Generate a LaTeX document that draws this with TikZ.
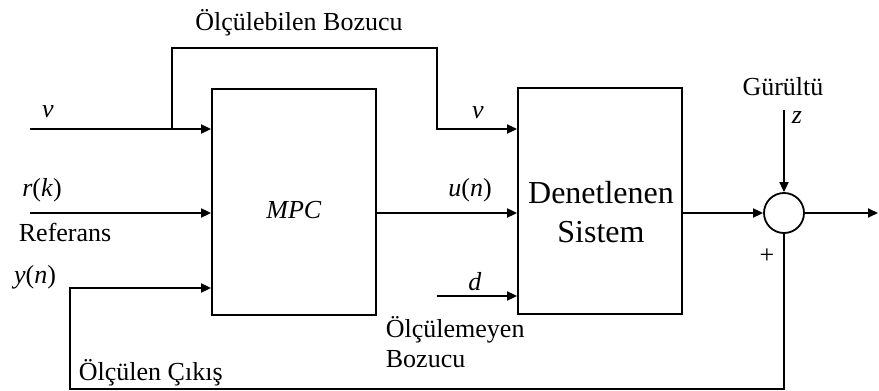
\documentclass[tikz,border=0pt]{standalone}
\usepackage{fontspec}
\setmainfont{Liberation Serif}
\usetikzlibrary{arrows.meta}

\begin{document}
\begin{tikzpicture}[x=0.5pt,y=-0.5pt,line width=0.9pt,
    blok/.style={draw,minimum width=82pt,minimum height=113pt},
    toplam/.style={draw,circle,minimum size=20pt,inner sep=0pt},
    ok/.style={-{Triangle[length=5pt,width=4.5pt]}},
    yazi/.style={font=\fontsize{13}{15}\selectfont,inner sep=0pt}]
    \useasboundingbox (0,0) rectangle (879,391);
    % bloklar
    \node[blok] (mpc) at (294,202) {};
    \node[yazi] (mpcad) at (294,210) {\textit{MPC}};
    \node[blok] (sis) at (600,201) {};
    \node[yazi,font=\fontsize{16}{19.5}\selectfont,align=center] (sisad) at (601,212) {Denetlenen\\Sistem};
    \node[toplam] (top) at (784,213) {};
    % serbest uclar
    \coordinate (vin) at (30,129);
    \coordinate (rin) at (30,213);
    \coordinate (vb) at (172,129);
    \coordinate (din) at (437,296);
    \coordinate (zin) at (784,110);
    \coordinate (cik) at (878,213);
    \coordinate (ykose) at (70,389);
    % baglantilar
    \draw[ok] (vin) -- (vin -| mpc.west);
    \draw[ok] (rin) -- (rin -| mpc.west);
    \draw[ok] (vb) -- (172,48) -- (437,48) -- (437,129) -- (vb -| sis.west);
    \draw[ok] (mpc.east |- rin) -- (sis.west |- rin);
    \draw[ok] (din) -- (din -| sis.west);
    \draw[ok] (sis.east |- top) -- (top.west);
    \draw[ok] (zin) -- (top.north);
    \draw[ok] (top.east) -- (cik);
    \draw[ok] (top.south) -- (top.south |- ykose) -- (ykose) -- (70,288) -- (mpc.west |- 0,288);
    % etiketler
    \node[yazi] (olcb) at (299,23) {Ölçülebilen Bozucu};
    \node[yazi] (v1) at (48,112) {\textit{v}};
    \node[yazi] (rk) at (42,190) {\textit{r}(\textit{k})};
    \node[yazi,anchor=west] (ref) at (18,232) {Referans};
    \node[yazi] (yn) at (35,277) {\textit{y}(\textit{n})};
    \node[yazi,anchor=west] (olcc) at (78,373) {Ölçülen Çıkış};
    \node[yazi] (v2) at (478,113) {\textit{v}};
    \node[yazi] (un) at (470,190) {\textit{u}(\textit{n})};
    \node[yazi] (dd) at (475,282) {\textit{d}};
    \node[yazi,anchor=north west,align=left] (olcm) at (385,316) {Ölçülemeyen\\Bozucu};
    \node[yazi] (gur) at (783,87) {Gürültü};
    \node[yazi] (zz) at (797,118) {\textit{z}};
    \node[yazi] (arti) at (767,256) {+};
\end{tikzpicture}
\end{document}
